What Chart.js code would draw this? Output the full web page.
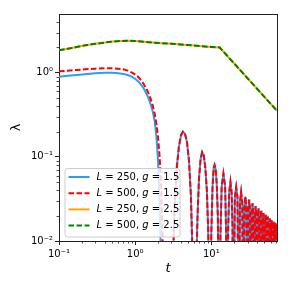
<!DOCTYPE html>
<html>
<head>
<meta charset="utf-8">
<script src="https://cdn.jsdelivr.net/npm/chart.js@4.4.1/dist/chart.umd.min.js"></script>
<style>
  html, body { margin: 0; padding: 0; background: #fff; }
  #wrap { width: 291px; height: 291px; }
</style>
</head>
<body>
<div id="wrap"><canvas id="myChart" width="291" height="291"></canvas></div>
<script>
// values (t on x, lambda on y, both log)
const tMain = [0.1, 0.13, 0.17, 0.22, 0.3, 0.4, 0.5, 0.6, 0.7, 0.8, 0.9, 1.0, 1.1, 1.2, 1.3, 1.4, 1.5, 1.6, 1.7, 1.8, 1.9, 2.0, 2.1, 2.2, 2.3, 2.5];
const lamMainL250 = [0.90, 0.92, 0.94, 0.96, 0.985, 1.0, 1.0, 0.99, 0.97, 0.94, 0.90, 0.85, 0.79, 0.72, 0.65, 0.57, 0.5, 0.42, 0.35, 0.27, 0.18, 0.09, 0.028, 0.005, 0.001, 0.0003];
const lamMainL500 = [1.04, 1.06, 1.08, 1.10, 1.12, 1.13, 1.13, 1.12, 1.10, 1.06, 1.01, 0.95, 0.89, 0.81, 0.73, 0.65, 0.57, 0.49, 0.41, 0.33, 0.25, 0.17, 0.10, 0.045, 0.009, 0.0003];

// oscillating tail, same for both g = 1.5 curves
const tOsc = [
  2.9, 3.1, 3.3, 3.5, 3.75, 4.0, 4.25, 4.5, 4.8, 5.1, 5.4, 5.65,
  5.95, 6.3, 6.6, 6.9, 7.25, 7.6, 7.95, 8.35, 8.75, 9.1, 9.35,
  9.6, 10.0, 10.4, 10.75, 11.05, 11.4, 11.8, 12.2,
  12.75, 13.2, 13.7, 14.45, 15.2, 15.7,
  16.15, 16.7, 17.2, 17.85, 18.5, 19.0,
  19.55, 20.4, 21.25, 22.1,
  22.95, 23.8, 24.65, 25.5,
  26.35, 27.2, 28.05, 28.9,
  29.75, 30.6, 31.45, 32.3,
  33.15, 34.0, 34.85, 35.7,
  36.55, 37.4, 38.25, 39.1,
  39.95, 40.8, 41.65, 42.5,
  43.35, 44.2, 45.05, 45.9,
  46.75, 47.6, 48.45, 49.3,
  50.15, 51.0, 51.85, 52.7,
  53.55, 54.4, 55.25, 56.1,
  56.95, 57.8, 58.65, 59.5,
  60.35, 61.2, 62.05, 62.9,
  63.75, 64.6, 65.45, 66.3,
  67.15, 68.0, 68.85, 69.7,
  70.55, 71.4, 72.25, 73.1,
  73.95
];
const lamOsc = [
  0.0003, 0.004, 0.025, 0.07, 0.13, 0.18, 0.20, 0.19, 0.15, 0.09, 0.035, 0.008,
  0.0003, 0.004, 0.02, 0.055, 0.095, 0.114, 0.105, 0.075, 0.04, 0.014, 0.004,
  0.0003, 0.012, 0.045, 0.074, 0.080, 0.072, 0.048, 0.02,
  0.0003, 0.012, 0.045, 0.063, 0.045, 0.012,
  0.0003, 0.015, 0.038, 0.050, 0.038, 0.015,
  0.0003, 0.033, 0.0435, 0.033,
  0.0003, 0.0285, 0.038, 0.0285,
  0.0003, 0.0253, 0.0337, 0.0253,
  0.0003, 0.0233, 0.031, 0.0233,
  0.0003, 0.021, 0.028, 0.021,
  0.0003, 0.0195, 0.026, 0.0195,
  0.0003, 0.0184, 0.0245, 0.0184,
  0.0003, 0.0173, 0.023, 0.0173,
  0.0003, 0.0161, 0.0215, 0.0161,
  0.0003, 0.0154, 0.0205, 0.0154,
  0.0003, 0.0146, 0.0195, 0.0146,
  0.0003, 0.0139, 0.0185, 0.0139,
  0.0003, 0.0133, 0.0177, 0.0133,
  0.0003, 0.0128, 0.017, 0.0128,
  0.0003, 0.0124, 0.0165, 0.0124,
  0.0003, 0.012, 0.016, 0.012,
  0.0003
];

// g = 2.5 curves (both L lie on top of each other)
const tG = [0.1, 0.13, 0.17, 0.22, 0.3, 0.4, 0.5, 0.65, 0.8, 1.0, 1.3, 1.7, 2.2, 3, 4, 5.5, 7.5, 10, 12.9, 20, 35, 73];
const lamG25L250 = [1.85, 1.93, 2.02, 2.12, 2.21, 2.29, 2.35, 2.39, 2.41, 2.39, 2.34, 2.29, 2.25, 2.22, 2.17, 2.12, 2.07, 2.03, 2.0, 1.29, 0.737, 0.353];
const lamG25L500 = [1.85, 1.93, 2.02, 2.12, 2.21, 2.29, 2.35, 2.39, 2.41, 2.39, 2.34, 2.29, 2.25, 2.22, 2.17, 2.12, 2.07, 2.03, 2.0, 1.29, 0.737, 0.353];

const labels = [
  {L: '250', g: '1.5'},
  {L: '500', g: '1.5'},
  {L: '250', g: '2.5'},
  {L: '500', g: '2.5'}
];
const xTicks = [0.1, 1, 10];
const xTickLabels = ['10\u207B\u00B9', '10\u2070', '10\u00B9'];
const yTicks = [0.01, 0.1, 1];
const yTickLabels = ['10\u207B\u00B2', '10\u207B\u00B9', '10\u2070'];

function pts(xs, ys) { return xs.map((x, i) => ({x: x, y: ys[i]})); }

Chart.defaults.font.family = 'DejaVu Sans';
Chart.defaults.color = '#000';

const AX = '#222';

// minor ticks, top/right spines and the legend inside the axes
const extras = {
  id: 'extras',
  afterDatasetsDraw(chart) {
    const ctx = chart.ctx, ca = chart.chartArea;
    const xs = chart.scales.x, ys = chart.scales.y;
    ctx.save();
    ctx.strokeStyle = AX;
    ctx.lineWidth = 1;
    ctx.beginPath();
    ctx.moveTo(ca.left, Math.round(ca.top) + 0.5);
    ctx.lineTo(ca.right + 0.5, Math.round(ca.top) + 0.5);
    ctx.moveTo(Math.round(ca.right) + 0.5, ca.top);
    ctx.lineTo(Math.round(ca.right) + 0.5, ca.bottom);
    ctx.stroke();
    ctx.lineWidth = 0.8;
    ctx.beginPath();
    [0.1, 1, 10].forEach(d => {
      for (let m = 2; m <= 9; m++) {
        const v = m * d;
        if (v > xs.max) break;
        const px = Math.round(xs.getPixelForValue(v)) + 0.5;
        ctx.moveTo(px, ca.bottom);
        ctx.lineTo(px, ca.bottom + 2.5);
      }
    });
    [0.01, 0.1, 1].forEach(d => {
      for (let m = 2; m <= 9; m++) {
        const v = m * d;
        if (v >= ys.max) break;
        const py = Math.round(ys.getPixelForValue(v)) + 0.5;
        ctx.moveTo(ca.left, py);
        ctx.lineTo(ca.left - 2.5, py);
      }
    });
    ctx.stroke();
    ctx.restore();
  },
  afterDraw(chart) {
    const ctx = chart.ctx, ca = chart.chartArea;
    const bx = ca.left + 5.5, by = ca.bottom - 73, bw = 115, bh = 68.5;
    ctx.save();
    ctx.fillStyle = 'rgba(255,255,255,0.8)';
    ctx.strokeStyle = '#cccccc';
    ctx.lineWidth = 1;
    ctx.beginPath();
    ctx.roundRect(bx + 0.5, by + 0.5, bw, bh, 3);
    ctx.fill();
    ctx.stroke();
    const sets = chart.data.datasets;
    ctx.textBaseline = 'middle';
    sets.forEach((ds, i) => {
      const y = by + 9 + i * 16.2;
      ctx.strokeStyle = ds.borderColor;
      ctx.lineWidth = ds.borderWidth;
      ctx.setLineDash(ds.borderDash || []);
      ctx.beginPath();
      ctx.moveTo(bx + 4, y);
      ctx.lineTo(bx + 25, y);
      ctx.stroke();
      ctx.setLineDash([]);
      const parts = [
        ['L', true], [' = ' + labels[i].L + ', ', false],
        ['g', true], [' = ' + labels[i].g, false]
      ];
      let x = bx + 32;
      ctx.fillStyle = '#000';
      parts.forEach(p => {
        ctx.font = (p[1] ? 'italic ' : '') + '10px "DejaVu Sans"';
        ctx.fillText(p[0], x, y);
        x += ctx.measureText(p[0]).width;
      });
    });
    ctx.restore();
  }
};

const ctx = document.getElementById('myChart').getContext('2d');
const myChart = new Chart(ctx, {
  type: 'line',
  data: {
    datasets: [
      {label: 'L=250, g=1.5', data: pts(tMain, lamMainL250).concat(pts(tOsc, lamOsc)),
        borderColor: '#2a9df4', borderWidth: 2, order: 4},
      {label: 'L=500, g=1.5', data: pts(tMain, lamMainL500).concat(pts(tOsc, lamOsc)),
        borderColor: '#ff0000', borderWidth: 2, borderDash: [5.6, 2.4], order: 3},
      {label: 'L=250, g=2.5', data: pts(tG, lamG25L250),
        borderColor: '#ffa500', borderWidth: 2, order: 2},
      {label: 'L=500, g=2.5', data: pts(tG, lamG25L500),
        borderColor: '#008000', borderWidth: 2, borderDash: [5.6, 2.4], order: 1}
    ]
  },
  options: {
    responsive: false,
    animation: false,
    devicePixelRatio: 1,
    layout: {padding: {top: 14, right: 14, left: 0, bottom: 0}},
    elements: {
      point: {radius: 0},
      line: {tension: 0, fill: false}
    },
    datasets: {line: {clip: 0}},
    plugins: {legend: {display: false}, tooltip: {enabled: false}},
    scales: {
      x: {
        type: 'logarithmic', min: 0.1, max: 73,
        afterBuildTicks: s => { s.ticks = xTicks.map(v => ({value: v})); },
        afterFit: s => { s.height = 50; },
        ticks: {
          autoSkip: false, maxRotation: 0, padding: 3,
          font: {size: 10},
          callback: v => xTickLabels[xTicks.indexOf(v)]
        },
        grid: {drawOnChartArea: false, drawTicks: true, tickLength: 4, color: AX, tickColor: AX, lineWidth: 1},
        border: {display: true, color: AX, width: 1},
        title: {display: true, text: 't', font: {size: 13, style: 'italic'}, padding: {top: 0, bottom: 15}}
      },
      y: {
        type: 'logarithmic', min: 0.01, max: 5,
        afterBuildTicks: s => { s.ticks = yTicks.map(v => ({value: v})); },
        afterFit: s => { s.width = 59; },
        ticks: {
          autoSkip: false, padding: 2,
          font: {size: 10},
          callback: v => yTickLabels[yTicks.indexOf(v)]
        },
        grid: {drawOnChartArea: false, drawTicks: true, tickLength: 4, color: AX, tickColor: AX, lineWidth: 1},
        border: {display: true, color: AX, width: 1},
        title: {display: true, text: '\u03BB', font: {size: 13}, padding: {top: 9, bottom: 0}}
      }
    }
  },
  plugins: [extras]
});
</script>
</body>
</html>
